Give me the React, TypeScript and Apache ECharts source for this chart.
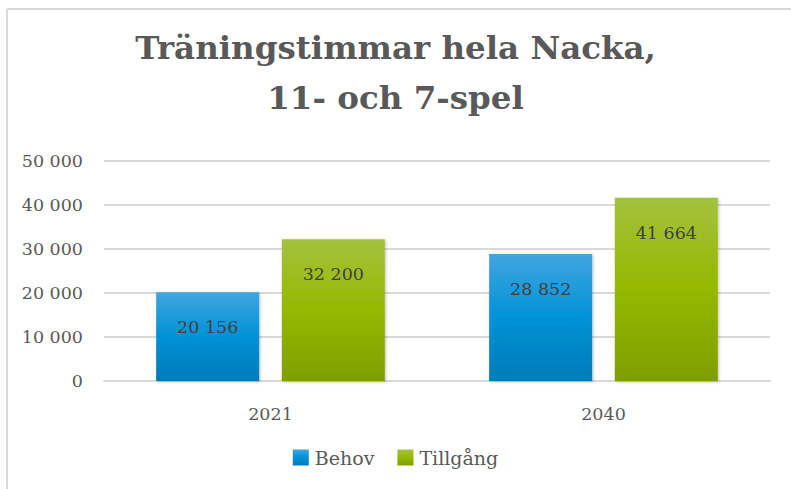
import React, { useEffect, useRef } from "react";
import * as echarts from "echarts";

const categories = ["2021", "2040"];
const behov = [20156, 28852];
const tillgang = [32200, 41664];
const seriesNames = ["Behov", "Tillgång"];
const titleText = "Träningstimmar hela Nacka,\n11- och 7-spel";

const fmt = (v: number) => String(Math.round(v)).replace(/\B(?=(\d{3})+(?!\d))/g, " ");
const FONT = "DejaVu Serif";

export default function App() {
  const ref = useRef<HTMLDivElement>(null);
  useEffect(() => {
    if (!ref.current) return;
    const chart = echarts.init(ref.current, undefined, { renderer: "svg" });
    const blue = new echarts.graphic.LinearGradient(0, 0, 0, 1, [
      { offset: 0, color: "#42a5e0" },
      { offset: 0.5, color: "#0092d6" },
      { offset: 1, color: "#007ab8" },
    ]);
    const green = new echarts.graphic.LinearGradient(0, 0, 0, 1, [
      { offset: 0, color: "#a4c23e" },
      { offset: 0.5, color: "#95b800" },
      { offset: 1, color: "#7f9e00" },
    ]);
    const labelCfg = {
      show: true,
      position: "insideTop",
      distance: 26,
      color: "#404040",
      fontFamily: FONT,
      fontSize: 17.5,
      formatter: (p: any) => fmt(p.value),
    };
    chart.setOption({
      animation: false,
      backgroundColor: "#ffffff",
      textStyle: { fontFamily: FONT },
      title: {
        text: titleText,
        left: "center",
        top: 17,
        textStyle: {
          fontFamily: FONT,
          fontWeight: "bold",
          fontSize: 32.5,
          lineHeight: 50,
          color: "#595959",
        },
      },
      graphic: [
        { type: "line", shape: { x1: 7, y1: 9, x2: 791, y2: 9 }, style: { stroke: "#d9d9d9", lineWidth: 2 } },
        { type: "line", shape: { x1: 7, y1: 9, x2: 7, y2: 489 }, style: { stroke: "#d9d9d9", lineWidth: 2 } },
      ],
      legend: {
        bottom: 17,
        left: "center",
        itemWidth: 16,
        itemHeight: 16,
        itemGap: 23,
        icon: "rect",
        textStyle: { fontFamily: FONT, fontSize: 19, color: "#595959", padding: [0, 0, 0, 1] },
        data: seriesNames,
      },
      grid: { left: 104, right: 21, top: 161, bottom: 108, containLabel: false },
      xAxis: {
        type: "category",
        data: categories,
        axisLine: { show: true, lineStyle: { color: "#d9d9d9", width: 2 } },
        axisTick: { show: false },
        axisLabel: { color: "#595959", fontFamily: FONT, fontSize: 17.5, margin: 24 },
      },
      yAxis: {
        type: "value",
        min: 0,
        max: 50000,
        interval: 10000,
        axisLine: { show: false },
        axisTick: { show: false },
        splitLine: { lineStyle: { color: "#d9d9d9", width: 2 } },
        axisLabel: { color: "#595959", fontFamily: FONT, fontSize: 17.5, margin: 21, formatter: (v: number) => fmt(v) },
      },
      series: [
        {
          name: seriesNames[0],
          type: "bar",
          data: behov,
          barWidth: 103,
          barGap: "22%",
          itemStyle: { color: blue, shadowBlur: 3, shadowColor: "rgba(0,0,0,0.25)", shadowOffsetX: 1, shadowOffsetY: 1 },
          label: labelCfg,
        },
        {
          name: seriesNames[1],
          type: "bar",
          data: tillgang,
          barWidth: 103,
          itemStyle: { color: green, shadowBlur: 3, shadowColor: "rgba(0,0,0,0.25)", shadowOffsetX: 1, shadowOffsetY: 1 },
          label: labelCfg,
        },
      ],
    });
    return () => chart.dispose();
  }, []);
  return (
    <div
      ref={ref}
      style={{ position: "fixed", left: 0, top: 0, width: 791, height: 489 }}
    />
  );
}
